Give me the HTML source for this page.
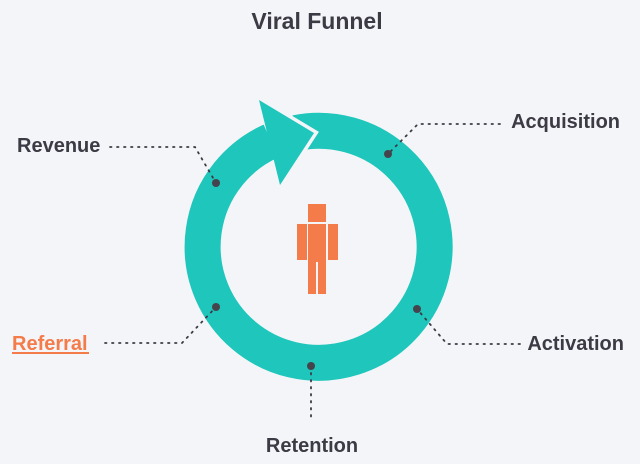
<!DOCTYPE html>
<html><head><meta charset="utf-8"><style>
html,body{margin:0;padding:0;background:#f4f5f8;}
svg{display:block}
text{font-family:"Liberation Sans",sans-serif;font-weight:bold;fill:#3c3b45;}
</style></head><body>
<svg width="640" height="464" viewBox="0 0 640 464">
<rect width="640" height="464" fill="#f4f5f8"/>
<text x="317" y="29" font-size="23" text-anchor="middle">Viral Funnel</text>
<!-- ring -->
<path d="M296 133 A116 116 0 1 1 271 141" fill="none" stroke="#1ec6bb" stroke-width="36"/>
<polyline points="259,100 314,133 280,185" fill="none" stroke="#f4f5f8" stroke-width="7" stroke-linejoin="miter"/>
<polygon points="259,100 314,133 280,185" fill="#1ec6bb"/>
<!-- person -->
<g fill="#f47b4a">
<rect x="308" y="204" width="18" height="18"/>
<rect x="308" y="224" width="18" height="38"/>
<rect x="297" y="224" width="10" height="36"/>
<rect x="328" y="224" width="10" height="36"/>
<rect x="308" y="262" width="8" height="32"/>
<rect x="318" y="262" width="8" height="32"/>
</g>
<!-- leaders -->
<g fill="none" stroke="#3c3b45" stroke-width="1.8" stroke-dasharray="1.5 5.5" stroke-linecap="round">
<polyline points="110,147 195,147 216,183"/>
<polyline points="500,124 418,124 388,154"/>
<polyline points="520,344 447,344 417,309"/>
<polyline points="105,343 182,343 216,307"/>
<polyline points="311,366 311,418"/>
</g>
<g fill="#45444c">
<circle cx="216" cy="183" r="4"/>
<circle cx="388" cy="154" r="4"/>
<circle cx="417" cy="309" r="4"/>
<circle cx="216" cy="307" r="4"/>
<circle cx="311" cy="366" r="4"/>
</g>
<text x="17" y="152" font-size="20">Revenue</text>
<text x="620" y="128" font-size="20" text-anchor="end">Acquisition</text>
<text x="624" y="350" font-size="20" text-anchor="end">Activation</text>
<text x="12" y="350" font-size="20" style="fill:#f47b4a">Referral</text>
<line x1="12" y1="353" x2="89" y2="353" stroke="#f47b4a" stroke-width="2"/>
<text x="312" y="452" font-size="20" text-anchor="middle">Retention</text>
</svg>
</body></html>
